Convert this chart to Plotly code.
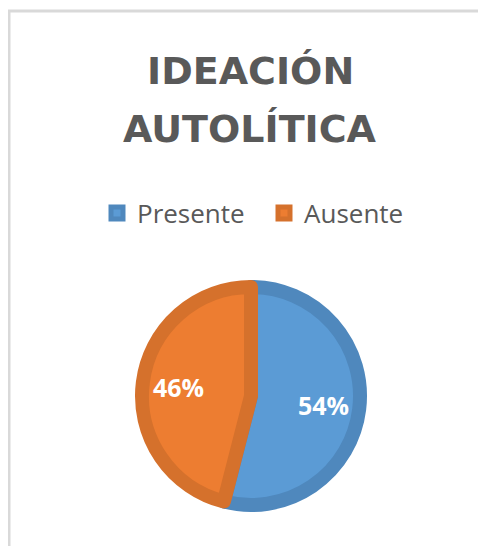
import plotly.graph_objects as go

# categorías y valores del gráfico
categorias = ["Presente", "Ausente"]
valores = [54, 46]
colores = ["#5b9bd5", "#ed7d31"]
bordes = ["#4f88bd", "#d5712c"]
titulo_lineas = ["IDEACIÓN", "AUTOLÍTICA"]

W, H = 486, 546
# el cuerpo de la página HTML tiene un margen de 8 px
OFF = 8


def px_x(x):
    return (x - OFF) / W


def px_y(y):
    return 1 - (y - OFF) / H


# dominio del pastel: centro (251, 396), radio 109 (coordenadas de la página)
dominio = dict(x=[px_x(142), px_x(360)], y=[px_y(505), px_y(287)])

fig = go.Figure()

# pastel principal con colores y borde oscuro
fig.add_trace(go.Pie(
    labels=categorias,
    values=valores,
    sort=False,
    direction="clockwise",
    rotation=0,
    marker=dict(colors=colores, line=dict(color=bordes, width=14)),
    textinfo="none",
    domain=dominio,
    hoverinfo="label+percent",
))

# capa transparente solo para colocar las etiquetas de porcentaje
fig.add_trace(go.Pie(
    labels=categorias,
    values=valores,
    sort=False,
    direction="clockwise",
    rotation=0,
    hole=0.34,
    marker=dict(colors=["rgba(0,0,0,0)"] * len(valores), line=dict(width=0)),
    textinfo="percent",
    textposition="inside",
    insidetextorientation="horizontal",
    textfont=dict(family="Open Sans", size=25, color="white", weight="bold"),
    domain=dominio,
    showlegend=False,
    hoverinfo="skip",
))

anotaciones = [
    dict(text=linea, x=px_x(250), y=px_y(yc), xref="paper", yref="paper",
         xanchor="center", yanchor="middle", showarrow=False,
         font=dict(family="DejaVu Sans", size=38, color="#595959", weight="bold"))
    for linea, yc in zip(titulo_lineas, [71, 129])
]

fig.update_layout(
    width=W, height=H,
    margin=dict(l=0, r=0, t=0, b=0),
    paper_bgcolor="white",
    plot_bgcolor="white",
    annotations=anotaciones,
    legend=dict(
        orientation="h",
        x=px_x(97), xanchor="left",
        y=px_y(213), yanchor="middle",
        font=dict(family="Open Sans", size=26, color="#595959"),
        traceorder="normal",
        entrywidth=122,
    ),
    shapes=[
        # marco gris del área del gráfico
        dict(type="line", xref="paper", yref="paper",
             x0=px_x(9), x1=px_x(9), y0=0, y1=px_y(10),
             line=dict(color="#d9d9d9", width=3)),
        dict(type="line", xref="paper", yref="paper",
             x0=px_x(7.5), x1=1, y0=px_y(11), y1=px_y(11),
             line=dict(color="#d9d9d9", width=3)),
    ],
)

fig.write_html("out.html")
